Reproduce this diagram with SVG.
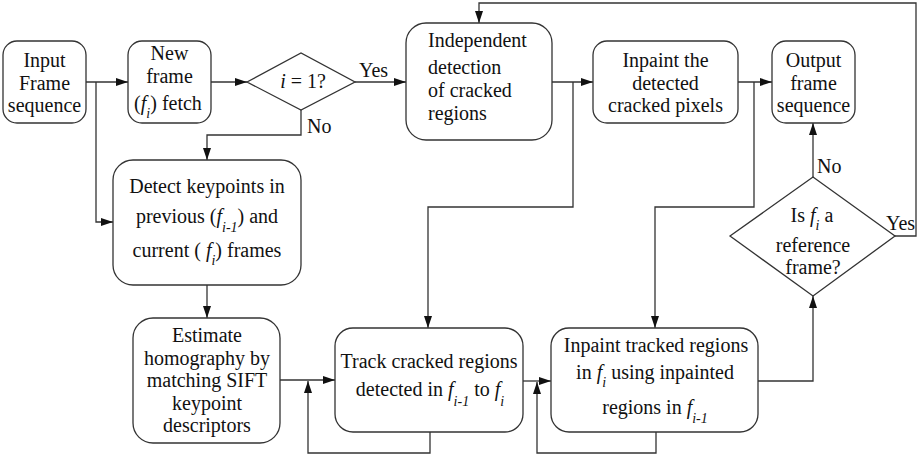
<svg xmlns="http://www.w3.org/2000/svg" width="923" height="458" viewBox="0 0 923 458">
<defs>
<marker id="ah" markerUnits="userSpaceOnUse" markerWidth="13" markerHeight="9" refX="12" refY="4" orient="auto">
<path d="M0,0 L12,4 L0,8 z" fill="#111"/>
</marker>
<style>
.box{fill:#fff;stroke:#333;stroke-width:1.3}
.t{font-family:"Liberation Serif","Times New Roman",serif;font-size:20px;fill:#111}
.m{text-anchor:middle}
.i{font-style:italic}
.s{font-style:italic;font-size:14px}
.c{fill:none;stroke:#333;stroke-width:1.3}
</style>
</defs>
<rect width="923" height="458" fill="#fff"/>
<g id="connectors">
<path class="c" d="M86,82 H128" marker-end="url(#ah)"/>
<path class="c" d="M96,82 V222 H113" marker-end="url(#ah)"/>
<path class="c" d="M211,82 H247" marker-end="url(#ah)"/>
<path class="c" d="M355,82 H406" marker-end="url(#ah)"/>
<path class="c" d="M301,110 V135 H207 V160" marker-end="url(#ah)"/>
<path class="c" d="M552,82 H593" marker-end="url(#ah)"/>
<path class="c" d="M573,82 V207 H428 V328" marker-end="url(#ah)"/>
<path class="c" d="M738,82 H772" marker-end="url(#ah)"/>
<path class="c" d="M754,82 V207 H655 V328" marker-end="url(#ah)"/>
<path class="c" d="M207,285 V318" marker-end="url(#ah)"/>
<path class="c" d="M280,380 H335" marker-end="url(#ah)"/>
<path class="c" d="M430,432 V453 H308 V381" marker-end="url(#ah)"/>
<path class="c" d="M523,381 H551" marker-end="url(#ah)"/>
<path class="c" d="M656,432 V453 H537 V382" marker-end="url(#ah)"/>
<path class="c" d="M758,381 H813 V296" marker-end="url(#ah)"/>
<path class="c" d="M813,177 V123" marker-end="url(#ah)"/>
<path class="c" d="M895,236 H916 V3 H479 V23" marker-end="url(#ah)"/>
<text class="t" x="359" y="77">Yes</text>
<text class="t" x="307" y="133">No</text>
<text class="t" x="817" y="173">No</text>
<text class="t" x="886" y="230">Yes</text>
</g>
<g id="input">
<rect class="box" x="3" y="41" width="83" height="82" rx="14"/>
<text class="t m" x="44.5" y="67">Input</text>
<text class="t m" x="44.5" y="90">Frame</text>
<text class="t m" x="44.5" y="112">sequence</text>
</g>
<g id="fetch">
<rect class="box" x="128" y="41" width="83" height="82" rx="14"/>
<text class="t m" x="169.5" y="60">New</text>
<text class="t m" x="169.5" y="83">frame</text>
<text class="t m" x="168" y="110">(<tspan class="i">f</tspan><tspan class="s" dy="8">i</tspan><tspan dy="-8">) fetch</tspan></text>
</g>
<g id="decision1">
<polygon class="box" points="247,82 301,53 355,82 301,110"/>
<text class="t m" x="303" y="88"><tspan class="i">i</tspan> = 1?</text>
</g>
<g id="independent">
<rect class="box" x="406" y="23" width="146" height="117" rx="20"/>
<text class="t" x="428" y="47">Independent</text>
<text class="t" x="428" y="74">detection</text>
<text class="t" x="428" y="97">of cracked</text>
<text class="t" x="428" y="120">regions</text>
</g>
<g id="inpaint1">
<rect class="box" x="593" y="41" width="145" height="82" rx="14"/>
<text class="t m" x="665.5" y="67">Inpaint the</text>
<text class="t m" x="665.5" y="90">detected</text>
<text class="t m" x="665.5" y="112">cracked pixels</text>
</g>
<g id="output">
<rect class="box" x="772" y="41" width="83" height="82" rx="14"/>
<text class="t m" x="813.5" y="67">Output</text>
<text class="t m" x="813.5" y="90">frame</text>
<text class="t m" x="813.5" y="112">sequence</text>
</g>
<g id="detect">
<rect class="box" x="113" y="160" width="188" height="125" rx="20"/>
<text class="t m" x="207" y="193">Detect keypoints in</text>
<text class="t m" x="207" y="223">previous (<tspan class="i">f</tspan><tspan class="s" dy="9">i-1</tspan><tspan dy="-9">) and</tspan></text>
<text class="t m" x="207" y="257">current ( <tspan class="i">f</tspan><tspan class="s" dy="8">i</tspan><tspan dy="-8">) frames</tspan></text>
</g>
<g id="estimate">
<rect class="box" x="133" y="318" width="147" height="125" rx="20"/>
<text class="t m" x="207" y="342">Estimate</text>
<text class="t m" x="207" y="364.5">homography by</text>
<text class="t m" x="207" y="387">matching SIFT</text>
<text class="t m" x="207" y="409.5">keypoint</text>
<text class="t m" x="207" y="432">descriptors</text>
</g>
<g id="track">
<rect class="box" x="335" y="328" width="188" height="104" rx="18"/>
<text class="t m" x="429" y="368">Track cracked regions</text>
<text class="t m" x="430" y="396">detected in <tspan class="i">f</tspan><tspan class="s" dy="10">i-1</tspan><tspan dy="-10"> to </tspan><tspan class="i">f</tspan><tspan class="s" dy="10">i</tspan></text>
</g>
<g id="inpaint2">
<rect class="box" x="551" y="328" width="207" height="104" rx="18"/>
<text class="t m" x="656" y="352">Inpaint tracked regions</text>
<text class="t m" x="655" y="379">in <tspan class="i">f</tspan><tspan class="s" dy="8">i</tspan><tspan dy="-8"> using inpainted</tspan></text>
<text class="t m" x="655" y="414">regions in <tspan class="i">f</tspan><tspan class="s" dy="9">i-1</tspan></text>
</g>
<g id="decision2">
<polygon class="box" points="730,236 813,177 895,236 813,296"/>
<text class="t m" x="812" y="222">Is <tspan class="i">f</tspan><tspan class="s" dy="8">i</tspan><tspan dy="-8"> a</tspan></text>
<text class="t m" x="813" y="252">reference</text>
<text class="t m" x="813" y="274">frame?</text>
</g>
</svg>
